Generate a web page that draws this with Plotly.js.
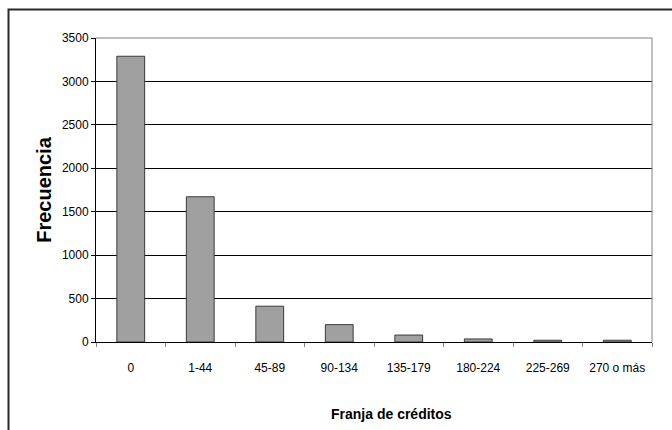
<!DOCTYPE html>
<html>
<head>
<meta charset="utf-8">
<script src="https://cdn.plot.ly/plotly-3.0.1.min.js"></script>
<style>
  html, body { margin: 0; padding: 0; background: #fff; }
  #chart { width: 672px; height: 430px; }
</style>
</head>
<body>
<div id="chart"></div>
<script>
const categories = ['0', '1-44', '45-89', '90-134', '135-179', '180-224', '225-269', '270 o más'];
const frequencies = [3290, 1672, 412, 200, 80, 35, 20, 20];
const yTickValues = [0, 500, 1000, 1500, 2000, 2500, 3000, 3500];
const xTitle = 'Franja de créditos';
const yTitle = 'Frecuencia';

const W = 672, H = 430;
const M = { l: 96, r: 20, t: 38, b: 88 };
const PW = W - M.l - M.r, PH = H - M.t - M.b;
const px = v => (v - M.l) / PW;
const py = v => (H - M.b - v) / PH;

const FONT = 'Liberation Sans, Arial, sans-serif';

const trace = {
  type: 'bar',
  x: categories,
  y: frequencies,
  marker: { color: '#a0a0a0', line: { color: '#3a3a3a', width: 1 } },
  hoverinfo: 'x+y'
};

const layout = {
  width: W, height: H,
  margin: M,
  paper_bgcolor: '#ffffff',
  plot_bgcolor: '#ffffff',
  showlegend: false,
  bargap: 0.6,
  font: { family: FONT, size: 12, color: '#000' },
  xaxis: {
    type: 'category',
    showline: true, linecolor: '#000', linewidth: 1,
    showgrid: false, zeroline: false,
    ticks: 'outside', tickson: 'boundaries', ticklen: 4, tickcolor: '#808080', tickwidth: 1,
    ticklabelstandoff: 15,
    tickfont: { family: FONT, size: 12, color: '#000' }
  },
  yaxis: {
    range: [0, 3500],
    tickvals: yTickValues,
    ticktext: yTickValues.map(String),
    showline: true, linecolor: '#000', linewidth: 1,
    showgrid: true, gridcolor: '#000', gridwidth: 1,
    zeroline: false,
    ticks: 'outside', ticklen: 4, tickcolor: '#000', tickwidth: 1,
    tickfont: { family: FONT, size: 12, color: '#000' },
    title: { text: yTitle, font: { family: FONT, size: 20, color: '#000', weight: 'bold' }, standoff: 4 }
  },
  annotations: [
    {
      text: xTitle, showarrow: false,
      xref: 'paper', yref: 'paper',
      x: px(391), y: py(414), xanchor: 'center', yanchor: 'middle',
      font: { family: FONT, size: 14, color: '#000', weight: 'bold' }
    }
  ],
  shapes: [
    {
      type: 'path', xref: 'paper', yref: 'paper', layer: 'above',
      path: `M ${px(M.l)} ${py(M.t)} L ${px(W - M.r)} ${py(M.t)} L ${px(W - M.r)} ${py(H - M.b)}`,
      line: { color: '#808080', width: 1 }
    },
    {
      type: 'path', xref: 'paper', yref: 'paper', layer: 'above',
      path: `M ${px(8.5)} ${py(440)} L ${px(8.5)} ${py(9.5)} L ${px(690)} ${py(9.5)}`,
      line: { color: '#2a2a2a', width: 2 }
    }
  ]
};

Plotly.newPlot('chart', [trace], layout, { displayModeBar: false, staticPlot: true });
</script>
</body>
</html>
